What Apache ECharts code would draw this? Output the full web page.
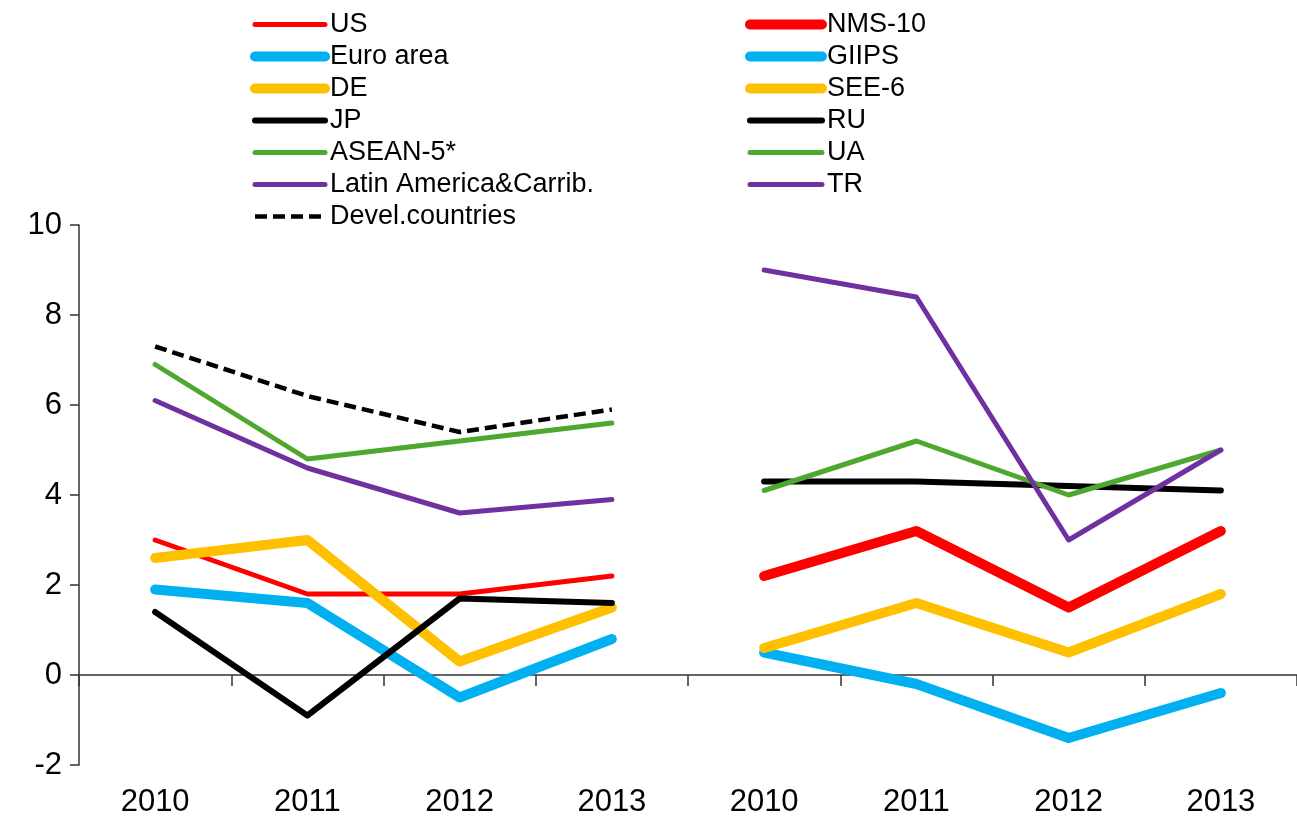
<!DOCTYPE html>
<html>
<head>
<meta charset="utf-8">
<script src="https://cdn.jsdelivr.net/npm/echarts@6/dist/echarts.min.js"></script>
<style>
  html, body { margin: 0; padding: 0; background: #fff; }
  #chart { width: 1297px; height: 818px; }
</style>
</head>
<body>
<div id="chart"></div>
<script>
// categories: two panels of four years each
const years = ["2010", "2011", "2012", "2013", "2010", "2011", "2012", "2013"];
const yTicks = { min: -2, max: 10, step: 2 };

// left panel (first four categories)
const us = [3.0, 1.8, 1.8, 2.2];
const euroArea = [1.9, 1.6, -0.5, 0.8];
const de = [2.6, 3.0, 0.3, 1.5];
const jp = [1.4, -0.9, 1.7, 1.6];
const asean5 = [6.9, 4.8, 5.2, 5.6];
const latAm = [6.1, 4.6, 3.6, 3.9];
const develCountries = [7.3, 6.2, 5.4, 5.9];

// right panel (last four categories)
const nms10 = [2.2, 3.2, 1.5, 3.2];
const giips = [0.5, -0.2, -1.4, -0.4];
const see6 = [0.6, 1.6, 0.5, 1.8];
const ru = [4.3, 4.3, 4.2, 4.1];
const ua = [4.1, 5.2, 4.0, 5.0];
const tr = [9.0, 8.4, 3.0, 5.0];

const RED = "#ff0000", BLUE = "#00b0f0", YELLOW = "#ffc000",
      BLACK = "#000000", GREEN = "#4ea72e", PURPLE = "#7030a0";

const empty = [null, null, null, null];
const leftSide = (v) => v.concat(empty);
const rightSide = (v) => empty.concat(v);

// name, values, colour, width, dashed
const leftDefs = [
  ["US", us, RED, 5],
  ["Euro area", euroArea, BLUE, 10],
  ["DE", de, YELLOW, 10],
  ["JP", jp, BLACK, 6],
  ["ASEAN-5*", asean5, GREEN, 5],
  ["Latin America&Carrib.", latAm, PURPLE, 5],
  ["Devel.countries", develCountries, BLACK, 4.5, true],
];
const rightDefs = [
  ["NMS-10", nms10, RED, 10],
  ["GIIPS", giips, BLUE, 10],
  ["SEE-6", see6, YELLOW, 10],
  ["RU", ru, BLACK, 6],
  ["UA", ua, GREEN, 5],
  ["TR", tr, PURPLE, 5],
];

const lineStyleOf = (d) => ({
  color: d[2],
  width: d[3],
  type: d[4] ? [12, 6] : "solid",
  cap: d[4] ? "butt" : "round",
  join: "round",
});

const makeSeries = (d, data) => ({
  name: d[0],
  type: "line",
  data: data,
  symbol: "none",
  connectNulls: false,
  silent: true,
  itemStyle: { color: d[2] },
  lineStyle: lineStyleOf(d),
});

// legend: line only, hide the marker dot
const legendItem = (d) => ({ name: d[0], lineStyle: lineStyleOf(d), itemStyle: { opacity: 0 } });

const series = []
  .concat(leftDefs.map((d) => makeSeries(d, leftSide(d[1]))))
  .concat(rightDefs.map((d) => makeSeries(d, rightSide(d[1]))));

const FONT = "'Liberation Sans', Arial, sans-serif";
const legendBase = {
  orient: "vertical",
  top: 11,
  padding: 0,
  itemHeight: 14,
  itemGap: 5,
  selectedMode: false,
  textStyle: { fontFamily: FONT, fontSize: 27, color: "#000" },
};

const chart = echarts.init(document.getElementById("chart"));
chart.setOption({
  animation: false,
  backgroundColor: "#fff",
  grid: { left: 79, top: 225, width: 1229, height: 540 },
  legend: [
    Object.assign({ left: 250, itemWidth: 70, data: leftDefs.map(legendItem) }, legendBase),
    Object.assign({ left: 745, itemWidth: 72, data: rightDefs.map(legendItem) }, legendBase),
  ],
  xAxis: [
    {
      type: "category",
      data: years,
      boundaryGap: true,
      axisLine: { onZero: true, lineStyle: { color: "#333", width: 1.5 } },
      axisTick: { show: true, length: 11, lineStyle: { color: "#333", width: 1.5 } },
      axisLabel: { show: false },
    },
    {
      type: "category",
      data: years,
      position: "bottom",
      boundaryGap: true,
      axisLine: { show: false, onZero: false },
      axisTick: { show: false },
      axisLabel: { margin: 22, fontFamily: FONT, fontSize: 31, color: "#000" },
    },
  ],
  yAxis: {
    type: "value",
    min: yTicks.min,
    max: yTicks.max,
    interval: yTicks.step,
    splitLine: { show: false },
    axisLine: { show: true, lineStyle: { color: "#333", width: 1.5 } },
    axisTick: { show: true, length: 9, lineStyle: { color: "#333", width: 1.5 } },
    axisLabel: { margin: 17, fontFamily: FONT, fontSize: 31, color: "#000" },
  },
  series: series,
});
</script>
</body>
</html>
